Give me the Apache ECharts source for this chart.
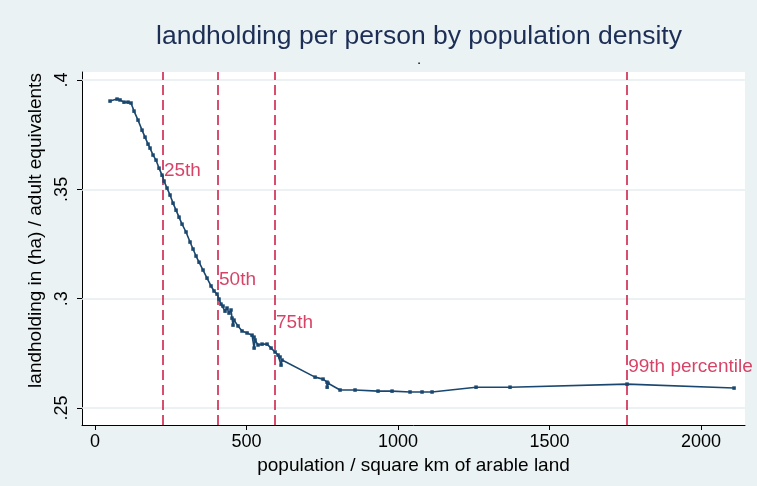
<!DOCTYPE html>
<html><head><meta charset="utf-8">
<script src="https://cdn.jsdelivr.net/npm/echarts@6/dist/echarts.min.js"></script>
<style>html,body{margin:0;padding:0;background:#EAF2F3;}#c{width:757px;height:486px;}</style>
</head><body><div id="c"></div>
<script>
const density = [49.5,72.6,82.5,95.7,108.9,118.8,128.7,141.9,155.1,165.0,174.9,181.5,191.4,201.3,211.2,221.1,227.7,237.6,247.5,257.4,267.3,277.2,287.1,300.3,313.5,323.4,333.3,343.2,356.4,369.6,382.8,392.7,402.6,409.2,415.8,422.4,429.0,435.6,442.2,448.8,452.1,455.4,458.7,471.9,485.1,501.7,518.2,524.8,525.0,528.1,537.9,551.2,567.7,580.9,594.1,604.0,610.6,613.9,617.2,726.1,752.5,765.7,766.0,769.0,808.6,858.1,934.0,980.2,1039.6,1079.2,1112.2,1257.4,1369.6,1755.8,2108.9];
const landholding = [0.3904,0.3913,0.3909,0.3899,0.3899,0.3895,0.3858,0.3817,0.3771,0.3739,0.3707,0.3689,0.3657,0.3634,0.3597,0.3565,0.3538,0.3506,0.3474,0.3437,0.3405,0.3373,0.3341,0.3305,0.3259,0.3227,0.3195,0.3167,0.3131,0.3094,0.3058,0.3035,0.3021,0.2998,0.2975,0.2966,0.2943,0.2957,0.2934,0.2948,0.2911,0.2879,0.2902,0.2875,0.2852,0.2843,0.2833,0.2824,0.2774,0.2811,0.2788,0.2792,0.2792,0.2774,0.2756,0.2742,0.2733,0.2696,0.2719,0.2641,0.2632,0.2618,0.2595,0.2613,0.2582,0.2582,0.2577,0.2577,0.2573,0.2573,0.2573,0.2595,0.2595,0.2609,0.2591];
const percentileX = [224, 406, 594, 1756];
const percentileLabels = ['25th', '50th', '75th', '99th percentile'];
const percentileLabelY = [0.3584, 0.3085, 0.2888, 0.2687];
const xTicks = [0, 500, 1000, 1500, 2000];
const yTicks = [0.25, 0.3, 0.35, 0.4];
const yTickLabels = ['.25', '.3', '.35', '.4'];

const chart = echarts.init(document.getElementById('c'));
const F = 'Liberation Sans, Arial, sans-serif';
chart.setOption({
  backgroundColor: '#EAF2F3',
  animation: false,
  title: [
    {text: 'landholding per person by population density', left: 414, top: 18, textAlign: 'center',
     textStyle: {fontFamily: F, fontSize: 26.5, fontWeight: 'normal', color: '#1C2E55'}},
    {text: '.', left: 414, top: 47, textAlign: 'center',
     textStyle: {fontFamily: F, fontSize: 15, fontWeight: 'normal', color: '#000'}}
  ],
  grid: {left: 82, right: 12, top: 72, bottom: 61, show: true, backgroundColor: '#fff', borderWidth: 0},
  xAxis: {
    type: 'value', min: -43, max: 2145,
    name: 'population / square km of arable land', nameLocation: 'middle', nameGap: 22,
    nameTextStyle: {fontFamily: F, fontSize: 19, color: '#000'},
    axisLine: {show: true, onZero: false, lineStyle: {color: '#000', width: 1}},
    axisTick: {show: true, length: 5, lineStyle: {color: '#000'}, customValues: xTicks},
    axisLabel: {fontFamily: F, fontSize: 18, color: '#000', margin: 8, customValues: xTicks,
      formatter: v => String(v)},
    splitLine: {show: false}
  },
  yAxis: {
    type: 'value', min: 0.2422, max: 0.4037,
    name: 'landholding in (ha) / adult equivalents', nameLocation: 'middle', nameGap: 32,
    nameTextStyle: {fontFamily: F, fontSize: 19, color: '#000', padding: [0, 0, 0, 36]},
    axisLine: {show: true, onZero: false, lineStyle: {color: '#000', width: 1}},
    axisTick: {show: true, length: 5, lineStyle: {color: '#000'}, customValues: yTicks},
    axisLabel: {fontFamily: F, fontSize: 18, color: '#000', margin: 11, rotate: 90, customValues: yTicks,
      formatter: v => { const i = yTicks.findIndex(t => Math.abs(t - v) < 1e-6); return i >= 0 ? yTickLabels[i] : ''; }},
    splitLine: {show: false}
  },
  series: [
    {
      type: 'line', silent: true, data: [],
      markLine: {
        symbol: 'none', silent: true, label: {show: false},
        lineStyle: {color: '#E6EEF0', width: 1.5, type: 'solid'},
        data: yTicks.map(v => ({yAxis: v}))
      }
    },
    {
      type: 'line', silent: true, data: [],
      markLine: {
        symbol: 'none', silent: true, label: {show: false},
        lineStyle: {color: '#CC1440', width: 1.5, type: [10, 5]},
        data: percentileX.map(v => ({xAxis: v}))
      }
    },
    {
      type: 'line', z: 5,
      data: density.map((x, i) => [x, landholding[i]]),
      lineStyle: {color: '#1A476F', width: 1.6},
      itemStyle: {color: '#1A476F'},
      symbol: 'rect', symbolSize: 3.5, showSymbol: true
    },
    {
      type: 'scatter', z: 6, symbolSize: 0,
      data: percentileX.map((x, i) => ({value: [x, percentileLabelY[i]], name: percentileLabels[i]})),
      label: {show: true, position: 'right', distance: 1, formatter: p => p.name,
        fontFamily: F, fontSize: 19, color: '#CC1440'}
    }
  ]
});
</script></body></html>
